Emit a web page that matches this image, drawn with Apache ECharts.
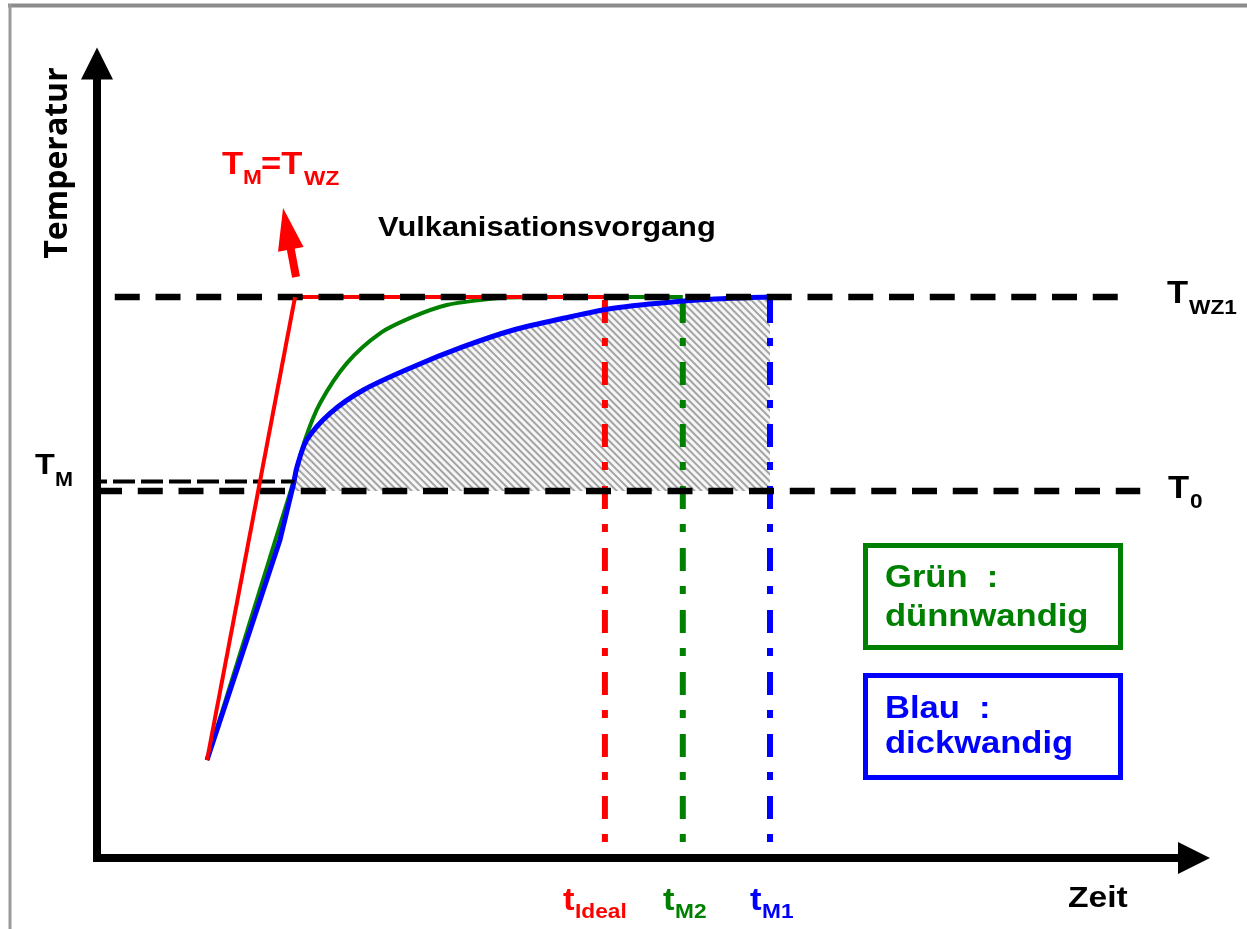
<!DOCTYPE html>
<html><head><meta charset="utf-8">
<script src="https://cdn.jsdelivr.net/npm/echarts@6/dist/echarts.min.js"></script>
<style>html,body{margin:0;padding:0;background:#fff}#c{width:1247px;height:929px}</style>
</head><body><div id="c"></div>
<script>
// ---- data (abstract units: time 0..100, temperature 0..100) ----
const levelTWZ1 = 70.6;
const levelT0 = 46.2;
const levelTM = 47.4;
const levelsEndTWZ1 = 93.1;
const levelsEndT0 = 95.1;
const kneeX = 18.0;
const timeMarks = [46.3, 53.4, 61.35];            // t_Ideal, t_M2, t_M1
const timeLabels = ['Ideal', 'M2', 'M1'];
const markBottom = 1.4;
const redRamp = [[10.03, 12.33], [18.05, 70.61]];
const redArrow = [[18.14, 73.13, 16.96, 81.81]];
const greenRamp = [[10.03, 12.33], [17.96, 47.58]];
const greenCurve = [[17.96, 47.58], [18.96, 52.61], [20.33, 57.23], [22.76, 62.26], [25.80, 66.04],
  [28.83, 68.13], [31.88, 69.60], [34.91, 70.23], [37.5, 70.55], [42.0, 70.61], [53.40, 70.61]];
const blueRamp = [[10.03, 12.33], [16.68, 40.03], [17.96, 47.33]];
const blueCurve = [[17.96, 47.33], [18.23, 49.21], [19.12, 52.61], [21.24, 55.97], [24.28, 58.91],
  [28.83, 61.84], [33.39, 64.36], [37.95, 66.46], [42.51, 67.93], [47.06, 69.19], [53.15, 70.07],
  [57.70, 70.45], [61.35, 70.61]];

const RED = '#ff0000', GREEN = '#008000', BLUE = '#0000ff';
const markColors = [RED, GREEN, BLUE];
const SMOOTH = 0.3;

function lineSeries(data, color, width, type, z, extra) {
  return Object.assign({
    type: 'line', data: data, symbol: 'none', silent: true, animation: false, z: z,
    lineStyle: { color: color, width: width, type: type || 'solid', cap: 'butt' }
  }, extra || {});
}
function dashed(data, color, width, pattern, offset, z) {
  return lineSeries(data, color, width, pattern, z, {
    lineStyle: { color: color, width: width, type: pattern, dashOffset: offset, cap: 'butt' }
  });
}

const series = [];
// hatched region between blue curve and T0
series.push({
  type: 'line', data: blueCurve, symbol: 'none', silent: true, animation: false, z: 1,
  smooth: SMOOTH,
  lineStyle: { width: 0, opacity: 0 },
  itemStyle: { color: '#f6f6f6', decal: { symbol: 'rect', symbolSize: 1, dashArrayX: [1, 0], dashArrayY: [1.2, 2.8], rotation: Math.PI / 4, color: 'rgba(120,120,120,0.65)' } },
  areaStyle: { color: '#f6f6f6', opacity: 1, origin: levelT0 }
});
// vertical time markers
timeMarks.forEach(function (x, i) {
  series.push(dashed([[x, levelTWZ1], [x, markBottom]], markColors[i], 6, [23, 15, 8, 16], 59, 2));
});
// curves
series.push(lineSeries(greenRamp, GREEN, 4, 'solid', 3));
series.push(lineSeries(greenCurve, GREEN, 4, 'solid', 3, { smooth: SMOOTH }));
series.push(lineSeries(blueRamp, BLUE, 5, 'solid', 4));
series.push(lineSeries(blueCurve, BLUE, 5, 'solid', 4, { smooth: SMOOTH }));
// red overlay on T_WZ1
series.push(lineSeries([[redRamp[1][0], levelTWZ1], [timeMarks[0], levelTWZ1]], RED, 4, 'solid', 5));
// level lines
series.push(dashed([[0, levelTWZ1], [levelsEndTWZ1, levelTWZ1]], '#000', 6.5, [25, 15.75], 23, 6));
series.push(dashed([[0, levelT0], [levelsEndT0, levelT0]], '#000', 6.5, [25, 15.75], 0, 6));
series.push(dashed([[0, levelTM], [kneeX, levelTM]], '#000', 4, [22, 6], 12, 6));
series.push(lineSeries(redRamp, RED, 4, 'solid', 7));
// red arrow
series.push({
  type: 'custom', data: redArrow, silent: true, animation: false, z: 7,
  encode: { x: [0, 2], y: [1, 3] },
  renderItem: function (params, api) {
    const p0 = api.coord([api.value(0), api.value(1)]);
    const p1 = api.coord([api.value(2), api.value(3)]);
    const dx = p1[0] - p0[0], dy = p1[1] - p0[1], L = Math.hypot(dx, dy);
    const ux = dx / L, uy = dy / L, nx = -uy, ny = ux;
    const headLen = 42, headW = 26;
    const bx = p1[0] - ux * headLen, by = p1[1] - uy * headLen;
    return { type: 'group', children: [
      { type: 'line', shape: { x1: p0[0], y1: p0[1], x2: bx + ux * 3, y2: by + uy * 3 }, style: { stroke: RED, lineWidth: 8 } },
      { type: 'polygon', shape: { points: [[p1[0], p1[1]], [bx + nx * headW / 2, by + ny * headW / 2], [bx - nx * headW / 2, by - ny * headW / 2]] }, style: { fill: RED } }
    ] };
  }
});

const FONT = '"Liberation Sans", Arial, sans-serif';
function txt(x, y, text, size, color, extra) {
  return Object.assign({
    type: 'text', x: x, y: y, scaleX: 1.08, z: 100,
    style: { text: text, x: 0, y: 0, fill: color, font: 'bold ' + size + 'px ' + FONT,
      align: 'left', verticalAlign: 'middle', textAlign: 'left', textVerticalAlign: 'middle' }
  }, extra || {});
}

const graphics = [
  // frame
  { type: 'line', shape: { x1: 8, y1: 5.5, x2: 1247, y2: 5.5 }, style: { stroke: '#8c8c8c', lineWidth: 4 }, z: 100 },
  { type: 'line', shape: { x1: 10, y1: 4, x2: 10, y2: 929 }, style: { stroke: '#9a9a9a', lineWidth: 3 }, z: 100 },
  // axis titles
  { type: 'text', x: 58, y: 163, rotation: Math.PI / 2, z: 100,
    style: { text: 'Temperatur', fill: '#000', font: 'bold 32px "Open Sans", sans-serif', align: 'center', verticalAlign: 'middle', textAlign: 'center', textVerticalAlign: 'middle' } },
  txt(1068, 899, 'Zeit', 30, '#000', { scaleX: 1.12 }),
  // T_M = T_WZ
  txt(222, 165, 'T', 32, RED),
  txt(243, 178.5, 'M', 21, RED),
  txt(261, 165, '=T', 32, RED),
  txt(304, 179, 'WZ', 21, RED),
  txt(378, 228, 'Vulkanisationsvorgang', 28, '#000', { scaleX: 1.1 }),
  // level labels
  txt(1167, 294, 'T', 32, '#000'),
  txt(1189, 308.5, 'WZ1', 21, '#000'),
  txt(1168, 489, 'T', 32, '#000'),
  txt(1190, 502, '0', 21, '#000'),
  txt(35, 465.5, 'T', 30, '#000'),
  txt(55, 480.5, 'M', 20, '#000'),
  // legend boxes
  { type: 'rect', shape: { x: 865.5, y: 545.5, width: 255, height: 102 }, style: { fill: 'transparent', stroke: GREEN, lineWidth: 5 }, z: 90 },
  { type: 'rect', shape: { x: 865.5, y: 675.5, width: 255, height: 102 }, style: { fill: 'transparent', stroke: BLUE, lineWidth: 5 }, z: 90 },
  txt(885, 578, 'Grün  :', 32, GREEN),
  txt(885, 617, 'dünnwandig', 32, GREEN),
  txt(885, 709, 'Blau  :', 32, BLUE),
  txt(885, 744, 'dickwandig', 32, BLUE)
];
// time labels
const tLabelX = [563, 663, 750];
timeLabels.forEach(function (s, i) {
  graphics.push(txt(tLabelX[i], 901, 't', 32, markColors[i]));
  graphics.push(txt(tLabelX[i] + 12, 912.5, s, 21, markColors[i]));
});

const axisCommon = {
  type: 'value', min: 0, max: 100,
  axisLine: { show: true, symbol: ['none', 'triangle'], symbolSize: [32, 32], lineStyle: { color: '#000', width: 8, cap: 'square' } },
  axisTick: { show: false }, axisLabel: { show: false }, splitLine: { show: false }
};

const chart = echarts.init(document.getElementById('c'), null, { renderer: 'canvas' });
chart.setOption({
  animation: false,
  backgroundColor: '#fff',
  grid: { left: 97, right: 53, top: 63.5, bottom: 71, outerBoundsMode: 'none', containLabel: false },
  xAxis: axisCommon,
  yAxis: axisCommon,
  series: series,
  graphic: graphics
});
</script></body></html>
